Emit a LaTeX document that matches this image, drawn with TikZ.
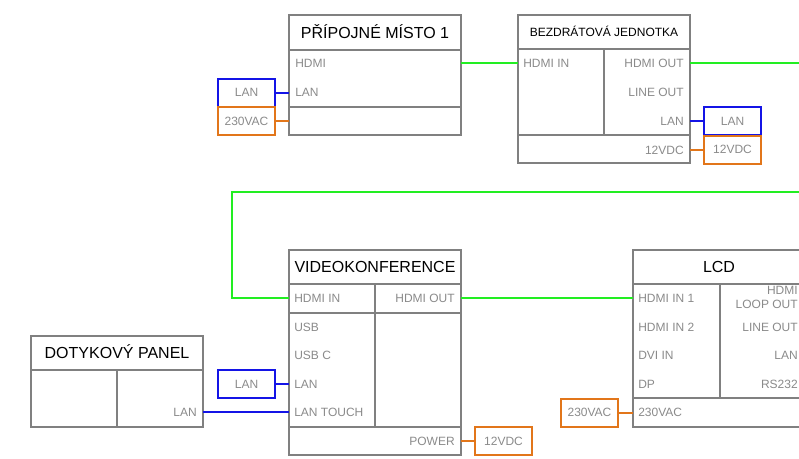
\documentclass[tikz,border=0pt]{standalone}
\usepackage{fontspec}
\setmainfont{Liberation Sans}
\usepackage{tikz}
\definecolor{linegray}{HTML}{808080}
\definecolor{labgray}{HTML}{8A8A8A}
\definecolor{hdmigreen}{HTML}{22EE22}
\definecolor{lanblue}{HTML}{1414E6}
\definecolor{pwrorange}{HTML}{E2761A}
\tikzset{
  zarizeni/.style={rectangle, draw=linegray, line width=1.5pt, anchor=north west,
    inner sep=0pt, outer sep=0pt, minimum width=129pt},
  deleni/.style={draw=linegray, line width=1.5pt},
  nazev/.style={font=\fontsize{12}{14}\selectfont, text=black, inner sep=0pt,
    text height=8.6pt, text depth=0pt},
  nazevmaly/.style={font=\fontsize{9}{11}\selectfont, text=black, inner sep=0pt,
    text height=6.45pt, text depth=0pt},
  port/.style={font=\fontsize{9}{11}\selectfont, text=labgray, inner sep=0pt,
    text height=6.45pt, text depth=0pt},
  lanbox/.style={rectangle, draw=lanblue, line width=1.5pt, minimum width=42.75pt,
    minimum height=21pt, inner sep=0pt, outer sep=0pt, font=\fontsize{9}{11}\selectfont,
    text=labgray, text height=6.45pt, text depth=0pt},
  pwrbox/.style={lanbox, draw=pwrorange},
  hdmi/.style={draw=hdmigreen, line width=1.5pt},
  lan/.style={draw=lanblue, line width=1.5pt},
  pwr/.style={draw=pwrorange, line width=1.5pt}
}
\begin{document}
\begin{tikzpicture}[x=0.75pt,y=-0.75pt]
\useasboundingbox (0,0) rectangle (799,458);
\clip (0,0) rectangle (799,458);

% pripojne misto
\node[zarizeni, minimum height=90pt] (pm) at (289,15) {};
\draw[deleni] (289,50) -- (461,50);
\draw[deleni] (289,107) -- (461,107);
\node[nazev] (pmt) at (375,32.5) {PŘÍPOJNÉ MÍSTO 1};
\node[port, anchor=west] (pmhdmi) at (295,63) {HDMI};
\node[port, anchor=west] (pmlan) at (295,92) {LAN};
\node[lanbox] (pmlanx) at (246.5,92.5) {LAN};
\node[pwrbox] (pmpwrx) at (246.5,121) {230VAC};

% bezdratova jednotka
\node[zarizeni, minimum height=111pt] (bj) at (518,15) {};
\draw[deleni] (518,49) -- (690,49);
\draw[deleni] (604,49) -- (604,135);
\draw[deleni] (518,135) -- (690,135);
\node[nazevmaly] (bjt) at (604,32) {BEZDRÁTOVÁ JEDNOTKA};
\node[port, anchor=west] (bjin) at (523,63) {HDMI IN};
\node[port, anchor=east] (bjout) at (684,63) {HDMI OUT};
\node[port, anchor=east] (bjline) at (684,92) {LINE OUT};
\node[port, anchor=east] (bjlan) at (684,121) {LAN};
\node[port, anchor=east] (bjpwr) at (684,150) {12VDC};
\node[lanbox] (bjlanx) at (732.5,121) {LAN};
\node[pwrbox] (bjpwrx) at (732.5,149.5) {12VDC};

% videokonference
\node[zarizeni, minimum height=153.75pt] (vk) at (289,250) {};
\draw[deleni] (289,284) -- (461,284);
\draw[deleni] (375,284) -- (375,427);
\draw[deleni] (289,313) -- (461,313);
\draw[deleni] (289,427) -- (461,427);
\node[nazev] (vkt) at (375,267) {VIDEOKONFERENCE};
\node[port, anchor=west] (vkin) at (294,298) {HDMI IN};
\node[port, anchor=east] (vkout) at (455,298) {HDMI OUT};
\node[port, anchor=west] (vkusb) at (294,327) {USB};
\node[port, anchor=west] (vkusbc) at (294,355) {USB C};
\node[port, anchor=west] (vklan) at (294,384) {LAN};
\node[port, anchor=west] (vktouch) at (294,412) {LAN TOUCH};
\node[port, anchor=east] (vkpwr) at (455,441) {POWER};
\node[lanbox] (vklanx) at (246.5,384) {LAN};
\node[pwrbox] (vkpwrx) at (503.5,441) {12VDC};

% dotykovy panel
\node[zarizeni, minimum height=68.25pt] (dp) at (31,336) {};
\draw[deleni] (31,370) -- (203,370);
\draw[deleni] (117,370) -- (117,427);
\node[nazev] (dpt) at (117,353) {DOTYKOVÝ PANEL};
\node[port, anchor=east] (dplan) at (197,412) {LAN};

% LCD
\node[zarizeni, minimum height=132.75pt] (lcd) at (633,250) {};
\draw[deleni] (633,284) -- (805,284);
\draw[deleni] (720,284) -- (720,398);
\draw[deleni] (633,398) -- (805,398);
\node[nazev] (lcdt) at (719,267) {LCD};
\node[port, anchor=west] (lcdin1) at (638,298) {HDMI IN 1};
\node[port, anchor=west] (lcdin2) at (638,327) {HDMI IN 2};
\node[port, anchor=west] (lcddvi) at (638,355) {DVI IN};
\node[port, anchor=west] (lcddp) at (638,384) {DP};
\node[port, anchor=west] (lcdpwr) at (638,412) {230VAC};
\node[port, anchor=east, align=right, text height=, font=\fontsize{9}{10.5}\selectfont] (lcdloop) at (798,297.5) {HDMI\\LOOP OUT};
\node[port, anchor=east] (lcdline) at (798,327) {LINE OUT};
\node[port, anchor=east] (lcdlan) at (798,355) {LAN};
\node[port, anchor=east] (lcdrs) at (798,384) {RS232};
\node[pwrbox] (lcdpwrx) at (589.5,412.5) {230VAC};

% propojeni
\draw[hdmi] (pm.east |- pmhdmi) -- (bj.west |- bjin);
\draw[hdmi] (bj.east |- bjout) -- (812,63) |- (232,192) |- (vk.west |- vkin);
\draw[hdmi] (vk.east |- vkout) -- (lcd.west |- lcdin1);
\draw[lan] (pmlanx.east) -- (pmlanx.east -| pm.west);
\draw[lan] (bjlanx.west) -- (bjlanx.west -| bj.east);
\draw[lan] (vklanx.east) -- (vklanx.east -| vk.west);
\draw[lan] (dp.east |- dplan) -- (vk.west |- vktouch);
\draw[pwr] (pmpwrx.east) -- (pmpwrx.east -| pm.west);
\draw[pwr] (bjpwrx.west) -- (bjpwrx.west -| bj.east);
\draw[pwr] (vkpwrx.west) -- (vkpwrx.west -| vk.east);
\draw[pwr] (lcdpwrx.east) -- (lcdpwrx.east -| lcd.west);
\end{tikzpicture}
\end{document}
